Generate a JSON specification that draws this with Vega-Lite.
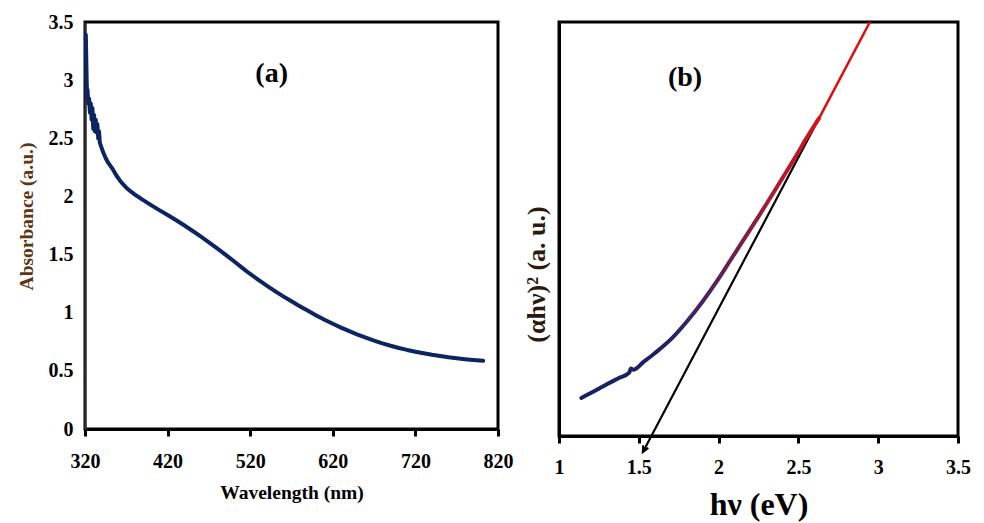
{
  "$schema": "https://vega.github.io/schema/vega-lite/v6.json",
  "autosize": {"type": "pad"},
  "padding": {"left": 14, "top": 10, "right": 5, "bottom": 5},
  "background": "white",
  "spacing": 61,
  "bounds": "flush",
  "config": {
    "font": "Liberation Serif",
    "view": {"stroke": "black", "strokeWidth": 3},
    "axis": {
      "grid": false,
      "domainColor": "black",
      "domainWidth": 3,
      "tickColor": "black",
      "tickWidth": 3,
      "labelFont": "Liberation Serif",
      "labelFontWeight": "bold",
      "labelFontSize": 20,
      "labelColor": "black",
      "titleFont": "Liberation Serif",
      "titleFontWeight": "bold"
    }
  },
  "datasets": {
    "absorbance": [
      {"wavelength": 321, "absorbance": 3.39},
      {"wavelength": 321.5, "absorbance": 3.2},
      {"wavelength": 322, "absorbance": 3.0},
      {"wavelength": 322.5, "absorbance": 2.86},
      {"wavelength": 323, "absorbance": 2.92},
      {"wavelength": 324, "absorbance": 2.8},
      {"wavelength": 325, "absorbance": 2.84},
      {"wavelength": 326, "absorbance": 2.72},
      {"wavelength": 327, "absorbance": 2.8},
      {"wavelength": 328, "absorbance": 2.66},
      {"wavelength": 329, "absorbance": 2.76},
      {"wavelength": 330, "absorbance": 2.58},
      {"wavelength": 331, "absorbance": 2.7},
      {"wavelength": 332, "absorbance": 2.56},
      {"wavelength": 333, "absorbance": 2.66},
      {"wavelength": 334, "absorbance": 2.55},
      {"wavelength": 335, "absorbance": 2.62},
      {"wavelength": 336, "absorbance": 2.5},
      {"wavelength": 337, "absorbance": 2.56},
      {"wavelength": 338, "absorbance": 2.46},
      {"wavelength": 340, "absorbance": 2.42},
      {"wavelength": 342, "absorbance": 2.38},
      {"wavelength": 345, "absorbance": 2.33},
      {"wavelength": 348, "absorbance": 2.29},
      {"wavelength": 351, "absorbance": 2.26},
      {"wavelength": 354, "absorbance": 2.23},
      {"wavelength": 358, "absorbance": 2.18},
      {"wavelength": 362, "absorbance": 2.14},
      {"wavelength": 366, "absorbance": 2.105},
      {"wavelength": 370, "absorbance": 2.075},
      {"wavelength": 375, "absorbance": 2.045},
      {"wavelength": 380, "absorbance": 2.018},
      {"wavelength": 390, "absorbance": 1.97},
      {"wavelength": 400, "absorbance": 1.925},
      {"wavelength": 410, "absorbance": 1.882},
      {"wavelength": 420, "absorbance": 1.84},
      {"wavelength": 430, "absorbance": 1.797},
      {"wavelength": 440, "absorbance": 1.752},
      {"wavelength": 450, "absorbance": 1.705},
      {"wavelength": 460, "absorbance": 1.656},
      {"wavelength": 470, "absorbance": 1.605},
      {"wavelength": 480, "absorbance": 1.553},
      {"wavelength": 490, "absorbance": 1.5},
      {"wavelength": 500, "absorbance": 1.445},
      {"wavelength": 510, "absorbance": 1.388},
      {"wavelength": 520, "absorbance": 1.333},
      {"wavelength": 530, "absorbance": 1.282},
      {"wavelength": 540, "absorbance": 1.233},
      {"wavelength": 550, "absorbance": 1.186},
      {"wavelength": 560, "absorbance": 1.141},
      {"wavelength": 570, "absorbance": 1.098},
      {"wavelength": 580, "absorbance": 1.056},
      {"wavelength": 590, "absorbance": 1.016},
      {"wavelength": 600, "absorbance": 0.977},
      {"wavelength": 610, "absorbance": 0.94},
      {"wavelength": 620, "absorbance": 0.905},
      {"wavelength": 630, "absorbance": 0.872},
      {"wavelength": 640, "absorbance": 0.841},
      {"wavelength": 650, "absorbance": 0.812},
      {"wavelength": 660, "absorbance": 0.785},
      {"wavelength": 670, "absorbance": 0.76},
      {"wavelength": 680, "absorbance": 0.737},
      {"wavelength": 690, "absorbance": 0.716},
      {"wavelength": 700, "absorbance": 0.697},
      {"wavelength": 710, "absorbance": 0.68},
      {"wavelength": 720, "absorbance": 0.665},
      {"wavelength": 730, "absorbance": 0.651},
      {"wavelength": 740, "absorbance": 0.638},
      {"wavelength": 750, "absorbance": 0.627},
      {"wavelength": 760, "absorbance": 0.617},
      {"wavelength": 770, "absorbance": 0.608},
      {"wavelength": 780, "absorbance": 0.6},
      {"wavelength": 790, "absorbance": 0.593},
      {"wavelength": 802, "absorbance": 0.586}
    ],
    "tauc": [
      {"energy": 1.14, "value": 9.2},
      {"energy": 1.22, "value": 10.8},
      {"energy": 1.3, "value": 12.5},
      {"energy": 1.37, "value": 13.9},
      {"energy": 1.44, "value": 15.3},
      {"energy": 1.45, "value": 16.3},
      {"energy": 1.465, "value": 16.0},
      {"energy": 1.53, "value": 17.9},
      {"energy": 1.6, "value": 20.0},
      {"energy": 1.71, "value": 23.7},
      {"energy": 1.8, "value": 27.6},
      {"energy": 1.9, "value": 32.5},
      {"energy": 2.0, "value": 38.0},
      {"energy": 2.07, "value": 42.2},
      {"energy": 2.15, "value": 47.0},
      {"energy": 2.25, "value": 53.0},
      {"energy": 2.32, "value": 57.3},
      {"energy": 2.4, "value": 62.3},
      {"energy": 2.48, "value": 67.3},
      {"energy": 2.55, "value": 71.9},
      {"energy": 2.6, "value": 75.0},
      {"energy": 2.63, "value": 76.8}
    ],
    "tangent": [
      {"energy": 2.63, "value": 76.8},
      {"energy": 1.525, "value": -3.9}
    ],
    "tangentExtension": [
      {"energy": 2.63, "value": 76.8},
      {"energy": 2.948, "value": 100}
    ]
  },
  "hconcat": [
    {
      "width": 413,
      "height": 407,
      "layer": [
        {
          "data": {"name": "absorbance"},
          "mark": {"type": "line", "color": "#0c2461", "strokeWidth": 4, "strokeJoin": "round", "strokeCap": "round"},
          "encoding": {
            "x": {
              "field": "wavelength",
              "type": "quantitative",
              "scale": {"domain": [320, 820], "nice": false, "zero": false},
              "axis": {
                "values": [320, 420, 520, 620, 720, 820],
                "title": "Wavelength (nm)",
                "titleFontSize": 19.5,
                "titlePadding": 12,
                "tickSize": 7,
                "labelPadding": 15,
                "labelFlush": false
              }
            },
            "y": {
              "field": "absorbance",
              "type": "quantitative",
              "scale": {"domain": [0, 3.5], "nice": false},
              "axis": {
                "values": [0, 0.5, 1, 1.5, 2, 2.5, 3, 3.5],
                "format": "~g",
                "title": "Absorbance (a.u.)",
                "titleFontSize": 19.5,
                "titleColor": "#5c3514",
                "titlePadding": 12,
                "titleY": 194,
                "tickSize": 0,
                "labelPadding": 12,
                "domainWidth": 2,
                "domainColor": "#333333"
              }
            }
          }
        },
        {
          "data": {"values": [{}]},
          "mark": {"type": "text", "text": "(a)", "font": "Liberation Serif", "fontWeight": "bold", "fontSize": 28, "color": "black"},
          "encoding": {
            "x": {"datum": 546, "type": "quantitative"},
            "y": {"datum": 3.05, "type": "quantitative"}
          }
        }
      ]
    },
    {
      "width": 399,
      "height": 414,
      "layer": [
        {
          "data": {"name": "tangent"},
          "mark": {"type": "line", "color": "black", "strokeWidth": 2.2, "clip": false},
          "encoding": {
            "x": {
              "field": "energy",
              "type": "quantitative",
              "scale": {"domain": [1, 3.5], "nice": false, "zero": false},
              "axis": {
                "values": [1, 1.5, 2, 2.5, 3, 3.5],
                "format": "~g",
                "title": "hν (eV)",
                "titleFontSize": 32,
                "titlePadding": 12,
                "tickSize": 7,
                "labelPadding": 14,
                "labelFlush": false
              }
            },
            "y": {
              "field": "value",
              "type": "quantitative",
              "scale": {"domain": [0, 100], "nice": false},
              "axis": {
                "title": "(αhν)² (a. u.)",
                "titleFontSize": 26,
                "titleColor": "#2a1a10",
                "titlePadding": 10,
                "titleY": 252,
                "labels": false,
                "ticks": false
              }
            }
          }
        },
        {
          "data": {"name": "tangentExtension"},
          "mark": {"type": "line", "color": "#e00c0c", "strokeWidth": 2.5},
          "encoding": {
            "x": {"field": "energy", "type": "quantitative"},
            "y": {"field": "value", "type": "quantitative"}
          }
        },
        {
          "data": {"name": "tauc"},
          "mark": {
            "type": "line",
            "strokeWidth": 4,
            "strokeCap": "round",
            "strokeJoin": "round",
            "interpolate": "monotone",
            "stroke": {
              "gradient": "linear",
              "x1": 0, "y1": 0, "x2": 1, "y2": 0,
              "stops": [
                {"offset": 0, "color": "#14215e"},
                {"offset": 0.35, "color": "#1f2262"},
                {"offset": 0.5, "color": "#452466"},
                {"offset": 0.65, "color": "#6e2048"},
                {"offset": 0.8, "color": "#a91a32"},
                {"offset": 1, "color": "#d9121a"}
              ]
            }
          },
          "encoding": {
            "x": {"field": "energy", "type": "quantitative"},
            "y": {"field": "value", "type": "quantitative"}
          }
        },
        {
          "data": {"values": [{}]},
          "mark": {
            "type": "point",
            "shape": "M-0.45,-1L0,0L0.45,-1",
            "filled": false,
            "stroke": "black",
            "strokeWidth": 2,
            "size": 160,
            "angle": 27.6,
            "opacity": 1,
            "clip": false
          },
          "encoding": {
            "x": {"datum": 1.525, "type": "quantitative"},
            "y": {"datum": -3.9, "type": "quantitative"}
          }
        },
        {
          "data": {"values": [{}]},
          "mark": {"type": "text", "text": "(b)", "font": "Liberation Serif", "fontWeight": "bold", "fontSize": 28, "color": "black"},
          "encoding": {
            "x": {"datum": 1.79, "type": "quantitative"},
            "y": {"datum": 86.5, "type": "quantitative"}
          }
        }
      ]
    }
  ]
}
